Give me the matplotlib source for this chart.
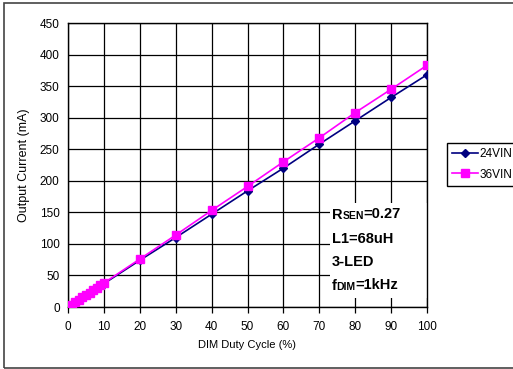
import matplotlib
matplotlib.use("Agg")
import matplotlib.pyplot as plt
from matplotlib.patches import Rectangle

plt.rcParams['font.family'] = ['Liberation Sans', 'DejaVu Sans']

duty = [1, 2, 3, 4, 5, 6, 7, 8, 9, 10, 20, 30, 40, 50, 60, 70, 80, 90, 100]
i_24vin = [3.5, 7.3, 11, 14.7, 18.4, 22, 25.8, 29.5, 33.2, 37, 74, 110, 147, 184, 220, 258, 295, 332, 368]
i_36vin = [3.8, 7.6, 11.4, 15.2, 19, 22.8, 26.6, 30.4, 34.2, 38, 76, 114, 153, 191, 230, 268, 308, 345, 383]
x_ticks = [0, 10, 20, 30, 40, 50, 60, 70, 80, 90, 100]
y_ticks = [0, 50, 100, 150, 200, 250, 300, 350, 400, 450]

W, H = 513, 369
fig = plt.figure(figsize=(W / 100, H / 100), dpi=100)
ax = fig.add_axes([68 / W, 1 - 307 / H, (427 - 68) / W, (307 - 23) / H])

# outer frame
fig.patches.append(Rectangle((4 / W, 1 / H), 1.0, 1 - 4 / H, transform=fig.transFigure,
                             fill=False, edgecolor='#444444', linewidth=1.2))

ax.plot(duty, i_24vin, color='#000080', marker='D', markersize=4.5, linewidth=1.2, label='24VIN', zorder=3)
ax.plot(duty, i_36vin, color='#FF00FF', marker='s', markersize=6, linewidth=1.2, label='36VIN', zorder=4)

ax.set_xlim(0, 100)
ax.set_ylim(0, 450)
ax.set_xticks(x_ticks)
ax.set_yticks(y_ticks)
ax.grid(True, color='black', linewidth=0.9)
ax.set_axisbelow(True)
for s in ax.spines.values():
    s.set_color('black')
    s.set_linewidth(1.0)
ax.tick_params(axis='both', direction='out', length=4, width=0.9, labelsize=8.5, colors='black', pad=6)
ax.tick_params(axis='y', length=0)
ax.set_xlabel('DIM Duty Cycle (%)', fontsize=8, labelpad=5)
ax.set_ylabel('Output Current (mA)', fontsize=9, labelpad=7)

# annotation box
ax.add_patch(Rectangle((0.73, 0.03), 0.27, 0.335, transform=ax.transAxes,
                       facecolor='white', edgecolor='none', zorder=2.5))

big = dict(fontsize=10.5, fontweight='bold', zorder=5)
small = dict(fontsize=7.5, fontweight='bold', zorder=5)


def chained(x, y, parts):
    t = ax.text(x, y, parts[0][0], transform=ax.transAxes, va='baseline', **parts[0][1])
    for s, kw in parts[1:]:
        dy = 0.6 if kw['fontsize'] < 10 else 0
        t = ax.annotate(s, xy=(1, 0), xycoords=t, xytext=(0, dy), textcoords='offset points',
                        ha='left', va='bottom', **kw)
    return t


ys = [0.31, 0.225, 0.143, 0.06]
chained(0.735, ys[0], [('R', big), ('SEN', small), ('=0.27', big)])
chained(0.735, ys[1], [('L1=68uH', big)])
chained(0.735, ys[2], [('3-LED', big)])
chained(0.735, ys[3], [('f', big), ('DIM', small), ('=1kHz', big)])

leg = fig.legend(loc='upper left', bbox_to_anchor=(447 / W, 1 - 143 / H), fontsize=8.5,
                 frameon=True, fancybox=False, edgecolor='black', framealpha=1,
                 handlelength=2.2, borderpad=0.45, labelspacing=0.7, handletextpad=0.1, borderaxespad=0)
leg.get_frame().set_linewidth(1.0)

fig.savefig('out.png', dpi=100)
